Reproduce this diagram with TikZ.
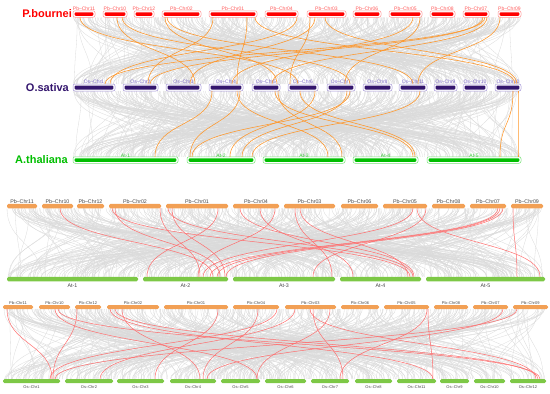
\documentclass[tikz,border=0pt]{standalone}
\usepackage{fontspec}
\setmainfont{Liberation Sans}
\usetikzlibrary{calc}
\definecolor{pbred}{RGB}{255,0,0}
\definecolor{pbline}{RGB}{255,150,150}
\definecolor{pblbl}{RGB}{255,90,90}
\definecolor{ospur}{RGB}{52,22,110}
\definecolor{osline}{RGB}{165,150,215}
\definecolor{oslbl}{RGB}{125,105,200}
\definecolor{atgrn}{RGB}{0,190,0}
\definecolor{atline}{RGB}{120,225,120}
\definecolor{atlbl}{RGB}{60,200,60}
\definecolor{chrorg}{RGB}{242,160,85}
\definecolor{chrgrn}{RGB}{125,200,70}
\definecolor{lnkorg}{RGB}{255,150,40}
\definecolor{lnkred}{RGB}{255,110,110}
\definecolor{bglink}{RGB}{218,218,218}
\definecolor{txtgray}{RGB}{70,70,70}
% synteny link: from node, offset from its west end, to node, offset
\newcommand\lnk[5]{\draw[#1] ($(#2.south west)+(#3,0)$) .. controls +(0,35) and +(0,-35) .. ($(#4.north west)+(#5,0)$);}

\begin{document}
\begin{tikzpicture}[x=1pt,y=-1pt,
  bglk/.style={bglink,line width=0.3pt},
  orglk/.style={lnkorg,line width=0.55pt},
  redlk/.style={lnkred,line width=0.5pt},
  chr/.style={inner sep=0pt,outer sep=0pt},
  boxed/.style 2 args={chr,draw=#2,fill=white,rounded corners=2pt,line width=0.5pt,minimum height=6.5pt,
    path picture={\fill[#1,rounded corners=1pt] ([xshift=1.6pt,yshift=-1.5pt]path picture bounding box.north west) rectangle ([xshift=-1.6pt,yshift=1.5pt]path picture bounding box.south east);}},
  pbbarA/.style={boxed={pbred}{pbline}},
  osbarA/.style={boxed={ospur}{osline},minimum height=7pt},
  atbarA/.style={boxed={atgrn}{atline}},
  flat/.style={chr,fill=#1,rounded corners=1.5pt,minimum height=4.5pt},
  lblA/.style={font=\fontsize{5}{5}\selectfont,inner sep=0.5pt},
  lblB/.style={font=\fontsize{5.3}{5.3}\selectfont,inner sep=0.5pt,text=txtgray},
  lblC/.style={font=\fontsize{4}{4}\selectfont,inner sep=0.5pt,text=txtgray},
  spc/.style={font=\fontsize{11}{11}\selectfont\bfseries,anchor=east,inner sep=0pt}]
\useasboundingbox (0,0) rectangle (550,394);

% background links
\pgfmathsetseed{11}
\foreach \i in {1,...,460}{
  \pgfmathsetmacro\xa{73+448*rnd}\pgfmathsetmacro\xb{73+448*rnd}
  \draw[bglk] (\xa,17.3) .. controls (\xa,51) and (\xb,51) .. (\xb,84);
  \pgfmathsetmacro\xa{73+448*rnd}\pgfmathsetmacro\xb{73+448*rnd}
  \draw[bglk] (\xa,91) .. controls (\xa,124) and (\xb,124) .. (\xb,156.8);
  \pgfmathsetmacro\xa{7+536*rnd}\pgfmathsetmacro\xb{7+536*rnd}
  \draw[bglk] (\xa,208.3) .. controls (\xa,243) and (\xb,243) .. (\xb,276.8);
  \pgfmathsetmacro\xa{3+545*rnd}\pgfmathsetmacro\xb{3+543*rnd}
  \draw[bglk] (\xa,309) .. controls (\xa,344) and (\xb,344) .. (\xb,379);
}

% species names
\node[spc,text=pbred] (spPb) at (72,14) {P.bournei};
\node[spc,text=ospur] (spOs) at (69,87.5) {O.sativa};
\node[spc,text=atgrn] (spAt) at (68,160) {A.thaliana};

% panel A chromosomes
\foreach \c/\l/\r in {11/73/95,10/103/127,12/134/154,02/162/201,01/209/257,04/265/298,03/307/346,06/353/381,05/389/422,08/430/455,07/463/489,09/498/521}{
  \pgfmathsetmacro\w{\r-\l}\pgfmathsetmacro\m{(\l+\r)/2}
  \node[pbbarA,minimum width=\w pt,label={[lblA,text=pblbl]above:Pb--Chr\c}] (pbA\c) at (\m,14) {};
}
\foreach \c/\l/\r in {1/73/115,2/123/158,3/166/201,4/209/243,5/252/280,6/288/318,7/327/355,8/363/392,11/399/427,9/434/457,10/463/487,12/495/521}{
  \pgfmathsetmacro\w{\r-\l}\pgfmathsetmacro\m{(\l+\r)/2}
  \node[osbarA,minimum width=\w pt,label={[lblA,text=oslbl]above:Os--Chr\c}] (osA\c) at (\m,87.5) {};
}
\foreach \c/\l/\r in {1/73/178,2/187/255,3/263/345,4/353/418,5/427/521}{
  \pgfmathsetmacro\w{\r-\l}\pgfmathsetmacro\m{(\l+\r)/2}
  \node[atbarA,minimum width=\w pt,label={[lblA,text=atlbl,yshift=-1pt]above:At-\c}] (atA\c) at (\m,160) {};
}

% panel B chromosomes
\foreach \c/\l/\r in {11/7/37,10/42/73,12/77/104,02/109/161,01/166/228,04/233/279,03/284/335,06/341/378,05/383/427,08/432/465,07/470/506,09/511/543}{
  \pgfmathsetmacro\w{\r-\l}\pgfmathsetmacro\m{(\l+\r)/2}
  \node[flat=chrorg,minimum width=\w pt,label={[lblB]above:Pb--Chr\c}] (pbB\c) at (\m,206) {};
}
\foreach \c/\l/\r in {1/7/138,2/143/228,3/233/335,4/340/421,5/426/545}{
  \pgfmathsetmacro\w{\r-\l}\pgfmathsetmacro\m{(\l+\r)/2}
  \node[flat=chrgrn,minimum width=\w pt,label={[lblB,label distance=1.5pt]below:At-\c}] (atB\c) at (\m,279) {};
}

% panel C chromosomes
\foreach \c/\l/\r in {11/3/33,10/39/70,12/75/101,02/107/159,01/164/228,04/233/279,03/285/336,06/341/379,05/384/429,08/434/468,07/473/508,09/513/548}{
  \pgfmathsetmacro\w{\r-\l}\pgfmathsetmacro\m{(\l+\r)/2}
  \node[flat=chrorg,minimum height=4pt,minimum width=\w pt,label={[lblC]above:Pb--Chr\c}] (pbC\c) at (\m,307) {};
}
\foreach \c/\l/\r in {1/3/60,2/65/113,3/117/164,4/170/216,5/221/260,6/265/306,7/311/349,8/355/392,11/397/436,9/440/469,10/474/505,12/510/546}{
  \pgfmathsetmacro\w{\r-\l}\pgfmathsetmacro\m{(\l+\r)/2}
  \node[flat=chrgrn,minimum height=4pt,minimum width=\w pt,label={[lblC,label distance=1.5pt]below:Os--Chr\c}] (osC\c) at (\m,381) {};
}

% panel A links
\lnk{orglk}{pbA10}{14}{osA3}{29}
\lnk{orglk}{pbA10}{19}{osA7}{23}
\lnk{orglk}{pbA02}{3}{osA5}{25}
\lnk{orglk}{pbA02}{5}{osA11}{14}
\lnk{orglk}{pbA01}{4}{osA2}{25}
\lnk{orglk}{pbA01}{38}{osA4}{28}
\lnk{orglk}{pbA01}{46}{osA12}{20}
\lnk{orglk}{pbA04}{32}{osA1}{37}
\lnk{orglk}{pbA03}{3}{osA6}{2}
\lnk{orglk}{pbA03}{8}{osA3}{24}
\lnk{orglk}{pbA03}{18}{osA12}{22}
\lnk{orglk}{pbA05}{24}{osA4}{23}
\lnk{orglk}{pbA05}{31}{osA7}{18}
\lnk{orglk}{pbA07}{20}{osA2}{27}
\lnk{orglk}{pbA07}{22}{osA1}{32}
\lnk{orglk}{pbA07}{24}{osA5}{20}
\lnk{orglk}{pbA09}{2}{osA11}{19}
\lnk{orglk}{pbA11}{7}{osA6}{10}
\lnk{orglk}{osA4}{3}{atA1}{82}
\lnk{orglk}{osA4}{31}{atA2}{3}
\lnk{orglk}{osA4}{28}{atA3}{65}
\lnk{orglk}{osA5}{26}{atA3}{79}
\lnk{orglk}{osA5}{23}{atA4}{60}
\lnk{orglk}{osA6}{27}{atA2}{43}
\lnk{orglk}{osA6}{12}{atA4}{62}
\lnk{orglk}{osA7}{20}{atA2}{55}
\lnk{orglk}{osA7}{23}{atA2}{5}
\lnk{orglk}{osA11}{21}{atA2}{65}
\lnk{orglk}{osA12}{18}{atA5}{73}
\lnk{orglk}{osA12}{23}{atA5}{91}

% panel B links
\lnk{redlk}{pbB10}{18}{atB2}{70}
\lnk{redlk}{pbB02}{3}{atB4}{70}
\lnk{redlk}{pbB02}{6}{atB2}{77}
\lnk{redlk}{pbB02}{51}{atB2}{57}
\lnk{redlk}{pbB01}{2}{atB4}{73}
\lnk{redlk}{pbB01}{6}{atB2}{82}
\lnk{redlk}{pbB01}{52}{atB2}{4}
\lnk{redlk}{pbB04}{7}{atB4}{74}
\lnk{redlk}{pbB04}{27}{atB4}{13}
\lnk{redlk}{pbB04}{42}{atB2}{55}
\lnk{redlk}{pbB03}{11}{atB3}{99}
\lnk{redlk}{pbB03}{16}{atB4}{68}
\lnk{redlk}{pbB05}{30}{atB2}{60}
\lnk{redlk}{pbB05}{34}{atB5}{114}
\lnk{redlk}{pbB05}{43}{atB3}{80}
\lnk{redlk}{pbB07}{28}{atB2}{67}
\lnk{redlk}{pbB07}{30}{atB2}{74}
\lnk{redlk}{pbB07}{33}{atB2}{83}
\lnk{redlk}{pbB09}{2}{atB5}{91}

% panel C links
\lnk{redlk}{pbC11}{4}{osC1}{49}
\lnk{redlk}{pbC10}{16}{osC5}{36}
\lnk{redlk}{pbC10}{19}{osC12}{30}
\lnk{redlk}{pbC12}{2}{osC1}{50}
\lnk{redlk}{pbC02}{3}{osC11}{36}
\lnk{redlk}{pbC02}{8}{osC12}{28}
\lnk{redlk}{pbC02}{15}{osC4}{30}
\lnk{redlk}{pbC01}{54}{osC3}{38}
\lnk{redlk}{pbC04}{25}{osC4}{33}
\lnk{redlk}{pbC04}{44}{osC1}{47}
\lnk{redlk}{pbC03}{10}{osC2}{35}
\lnk{redlk}{pbC03}{25}{osC12}{26}
\lnk{redlk}{pbC03}{28}{osC7}{32}
\lnk{redlk}{pbC03}{45}{osC5}{36}
\lnk{redlk}{pbC05}{43}{osC7}{29}
\lnk{redlk}{pbC05}{44}{osC11}{36}
\lnk{redlk}{pbC07}{30}{osC4}{37}
\lnk{redlk}{pbC09}{4}{osC1}{52}
\end{tikzpicture}
\end{document}
